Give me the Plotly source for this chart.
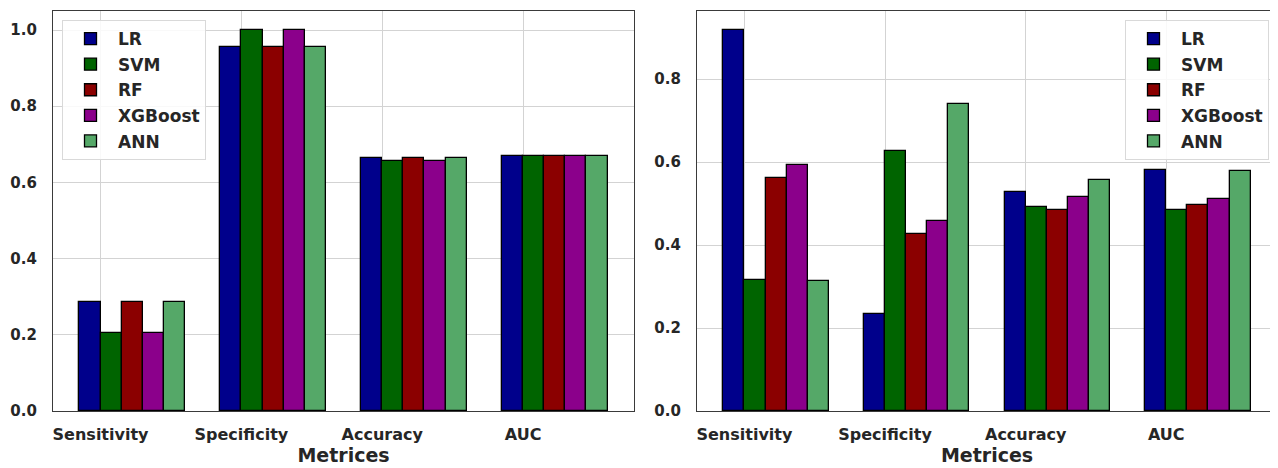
import plotly.graph_objects as go

metrics = ["Sensitivity", "Specificity", "Accuracy", "AUC"]
models = ["LR", "SVM", "RF", "XGBoost", "ANN"]
colors = ["#00008B", "#006400", "#8B0000", "#8B008B", "#55A868"]

left_LR = [0.2857, 0.9545, 0.6654, 0.669]
left_SVM = [0.2045, 1.0, 0.6566, 0.669]
left_RF = [0.2857, 0.9545, 0.6654, 0.669]
left_XGBoost = [0.2045, 1.0, 0.6566, 0.669]
left_ANN = [0.2857, 0.9545, 0.6654, 0.669]

right_LR = [0.919, 0.2335, 0.529, 0.580]
right_SVM = [0.317, 0.628, 0.493, 0.485]
right_RF = [0.561, 0.426, 0.485, 0.4975]
right_XGBoost = [0.592, 0.458, 0.515, 0.512]
right_ANN = [0.3146, 0.741, 0.557, 0.579]

left_vals = [left_LR, left_SVM, left_RF, left_XGBoost, left_ANN]
right_vals = [right_LR, right_SVM, right_RF, right_XGBoost, right_ANN]

width = 0.15
base = list(range(len(metrics)))
tickpos = [b + width / 2 for b in base]

# page body adds an 8px offset; figure is sized to fill the remaining window
OFF = 8
W, H = 1278 - OFF, 468 - OFF
ml, mr, mt = 53 - OFF, 1, 11 - OFF
mb = H - (411.5 - OFF)
pw = W - ml - mr
ph = H - mt - mb

ytick_font = dict(family="DejaVu Sans", size=15, color="#262626", weight="bold")
xtick_font = dict(family="DejaVu Sans", size=16, color="#262626", weight="bold")
title_font = dict(family="DejaVu Sans", size=19, color="#262626", weight="bold")

fig = go.Figure()
for panel, vals, xa, ya, lg in [(0, left_vals, "x", "y", "legend"), (1, right_vals, "x2", "y2", "legend2")]:
    for k, (name, col, v) in enumerate(zip(models, colors, vals)):
        fig.add_trace(go.Bar(
            x=[b + k * width for b in base], y=v, width=width, name=name,
            marker=dict(color=col, line=dict(color="black", width=1.3)),
            xaxis=xa, yaxis=ya, legend=lg, legendgroup=f"{panel}{name}",
            showlegend=True,
        ))

xr = [-0.2625, 3.8625]
axis_common = dict(
    showgrid=True, gridcolor="#d3d3d3", gridwidth=1.3,
    showline=True, linecolor="#3a3a3a", linewidth=1.3, mirror=True,
    zeroline=False, ticks="", automargin=False,
)
legend_common = dict(
    yanchor="top", y=1 - 9 / ph,
    bgcolor="rgba(255,255,255,0.85)", bordercolor="#d9d9d9", borderwidth=1,
    font=dict(family="DejaVu Sans", size=17, color="#262626", weight="bold"),
    tracegroupgap=0.5, itemwidth=45,
)
fig.update_layout(
    width=W, height=H,
    margin=dict(l=ml, r=mr, t=mt, b=mb),
    plot_bgcolor="white", paper_bgcolor="white",
    barmode="overlay", bargap=0,
    showlegend=True,
    xaxis=dict(domain=[0, 581 / pw], range=xr, tickvals=tickpos, ticktext=metrics,
               ticklabelstandoff=9, anchor="y", tickfont=xtick_font,
               title=dict(text="Metrices", font=title_font, standoff=5),
               **axis_common),
    yaxis=dict(domain=[0, 1], range=[0, 1.05], tickvals=[0, 0.2, 0.4, 0.6, 0.8, 1.0],
               tickformat=".1f", ticklabelstandoff=12, anchor="x", tickfont=ytick_font,
               **axis_common),
    xaxis2=dict(domain=[(697 - 53) / pw, 1], range=xr, tickvals=tickpos, ticktext=metrics,
                ticklabelstandoff=9, anchor="y2", tickfont=xtick_font,
                title=dict(text="Metrices", font=title_font, standoff=5),
                **axis_common),
    yaxis2=dict(domain=[0, 1], range=[0, 0.9644], tickvals=[0, 0.2, 0.4, 0.6, 0.8],
                tickformat=".1f", ticklabelstandoff=12, anchor="x2", tickfont=ytick_font,
                **axis_common),
    legend=dict(x=(62 - 53) / pw, xanchor="left", **legend_common),
    legend2=dict(x=(1269 - 53) / pw, xanchor="right", **legend_common),
)

fig.write_html("out.html")
